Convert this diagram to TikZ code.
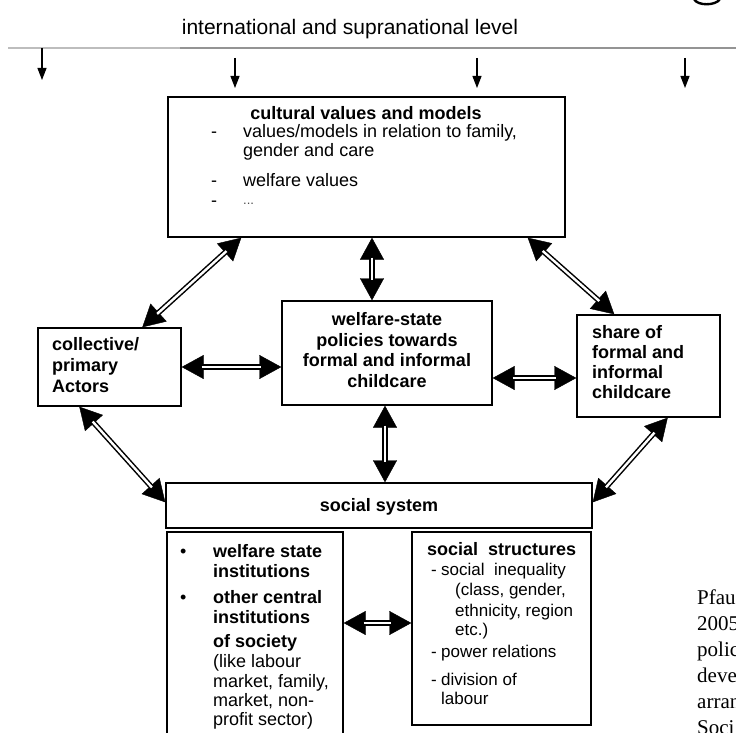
\documentclass[tikz,border=0pt]{standalone}
\usepackage{fontspec}
\setmainfont{Liberation Sans}
\newfontfamily\citeserif{Liberation Serif}
\usetikzlibrary{arrows.meta}
\newcommand\setfs[2]{\fontsize{#1}{#2}\selectfont}
\definecolor{rulelight}{gray}{0.74}
\definecolor{ruledark}{gray}{0.58}
\tikzset{
  box/.style={draw, line width=1.4pt, rectangle, inner sep=0pt},
  twoway/.style={
    preaction={draw, line width=0.4pt, shorten <=0pt, shorten >=0pt,
      arrows={Triangle[length=22pt,width=24pt]-Triangle[length=22pt,width=24pt]}},
    double, double distance=2.4pt, line width=1.5pt,
    shorten <=20pt, shorten >=20pt},
  down/.style={line width=1.1pt, -{Triangle[length=12pt,width=9pt]}},
  t/.style={inner sep=0pt, anchor=base west, font=\setfs{18}{20}},
  tb/.style={inner sep=0pt, anchor=base west, font=\setfs{18}{20}\bfseries},
  ts/.style={inner sep=0pt, anchor=base west, font=\setfs{17}{20}},
  cite/.style={inner sep=0pt, anchor=base west, font=\citeserif\setfs{21}{26}}
}
\begin{document}
\begin{tikzpicture}[x=1pt,y=-1pt]
\useasboundingbox (0,0) rectangle (736,733);
\clip (0,0) rectangle (736,733);

% external level
\node[inner sep=0pt, anchor=base, font=\setfs{21}{24}] (top) at (350,35) {international and supranational level};
\coordinate (rl) at (8,48);
\coordinate (rm) at (180,48);
\coordinate (rr) at (736,48);
\draw[rulelight, line width=2.2pt] (rl) -- (rm);
\draw[ruledark, line width=2.2pt] (rm) -- (rr);
\coordinate (d1a) at (42,48);  \coordinate (d1b) at (42,80);
\coordinate (d2a) at (235,58); \coordinate (d2b) at (235,88);
\coordinate (d3a) at (477,58); \coordinate (d3b) at (477,88);
\coordinate (d4a) at (685,58); \coordinate (d4b) at (685,88);
\draw[down] (d1a) -- (d1b);
\draw[down] (d2a) -- (d2b);
\draw[down] (d3a) -- (d3b);
\draw[down] (d4a) -- (d4b);

% glyph remnant at the top edge
\draw[line width=2.4pt] (694,-1) .. controls (697,6) and (716,6) .. (720,-1);

% boxes
\node[box, minimum width=397pt, minimum height=140pt] (cult)  at (366.5,167) {};
\node[box, minimum width=210pt, minimum height=104pt] (pol)   at (387,353) {};
\node[box, minimum width=143pt, minimum height=102pt] (share) at (648.5,366) {};
\node[box, minimum width=143pt, minimum height=78pt]  (coll)  at (109.5,367) {};
\node[box, minimum width=426pt, minimum height=45pt]  (soc)   at (379,505.5) {};
\node[box, minimum width=176pt, minimum height=230pt] (inst)  at (255,647) {};
\node[box, minimum width=179pt, minimum height=193pt] (struc) at (501.5,628.5) {};

% cultural values and models
\node[tb, anchor=base] (c0) at (366,120) {cultural values and models};
\node[t] (c1d) at (211,138) {-};
\node[t] (c1)  at (243,138) {values/models in relation to family,};
\node[t] (c2)  at (243,157) {gender and care};
\node[t] (c3d) at (211,186) {-};
\node[t] (c3)  at (243,186) {welfare values};
\node[t] (c4d) at (211,206) {-};
\node[t, font=\setfs{13}{13}, text=black!70] (c4) at (243,204) {...};

% collective actors
\node[tb] (k1) at (52,350) {collective/};
\node[tb] (k2) at (52,371) {primary};
\node[tb] (k3) at (52,392) {Actors};

% welfare-state policies
\node[tb, anchor=base] (p1) at (387,325) {welfare-state};
\node[tb, anchor=base] (p2) at (387,346) {policies towards};
\node[tb, anchor=base] (p3) at (387,366) {formal and informal};
\node[tb, anchor=base] (p4) at (387,387) {childcare};

% share of childcare
\node[tb] (s1) at (592,338) {share of};
\node[tb] (s2) at (592,358) {formal and};
\node[tb] (s3) at (592,378) {informal};
\node[tb] (s4) at (592,398) {childcare};

% social system
\node[tb, anchor=base] (ss) at (379,511) {social system};

% institutions
\node[t] (b1) at (180,557) {\textbullet};
\node[tb] (i1) at (213,557) {welfare state};
\node[tb] (i2) at (213,577) {institutions};
\node[t] (b2) at (180,603) {\textbullet};
\node[tb] (i3) at (213,603) {other central};
\node[tb] (i4) at (213,623) {institutions};
\node[tb] (i5) at (213,647) {of society};
\node[t] (i6) at (213,667) {(like labour};
\node[t] (i7) at (213,687) {market, family,};
\node[t] (i8) at (213,706) {market, non-};
\node[t] (i9) at (213,725) {profit sector)};

% social structures
\node[tb] (r0) at (427,555) {social\ \ structures};
\node[ts] (r1d) at (431,575) {-};
\node[ts] (r1) at (441,575) {social\ \ inequality};
\node[ts] (r2) at (455,595) {(class, gender,};
\node[ts] (r3) at (455,616) {ethnicity, region};
\node[ts] (r4) at (455,635) {etc.)};
\node[ts] (r5d) at (431,657) {-};
\node[ts] (r5) at (441,657) {power relations};
\node[ts] (r6d) at (431,685) {-};
\node[ts] (r6) at (441,685) {division of};
\node[ts] (r7) at (441,704) {labour};

% source note, running off the right edge
\node[cite] (n1) at (697,604) {Pfau};
\node[cite] (n2) at (697,630) {2005};
\node[cite] (n3) at (697,656) {polic};
\node[cite] (n4) at (697,682) {deve};
\node[cite] (n5) at (697,708) {arran};
\node[cite] (n6) at (697,734) {Soci};

% connections
\draw[twoway] ([xshift=74pt]cult.south west) -- ([xshift=105pt]coll.north west);
\draw[twoway] ([xshift=42pt]coll.south west) -- ([yshift=-20pt]soc.north west);
\draw[twoway] ([xshift=-38pt]cult.south east) -- ([xshift=38pt]share.north west);
\draw[twoway] ([xshift=-53pt]share.south east) -- ([yshift=-20pt]soc.north east);
\draw[twoway] ([xshift=5.5pt]cult.south) -- ([xshift=-15pt]pol.north);
\draw[twoway] ([xshift=-2pt]pol.south) -- ([xshift=6pt]soc.north);
\draw[twoway] (coll.east) -- ([yshift=-14pt]pol.west);
\draw[twoway] ([yshift=-25pt]pol.east) -- ([yshift=-12pt]share.west);
\draw[twoway] ([yshift=24pt]inst.east) -- ([yshift=5.5pt]struc.west);
\end{tikzpicture}
\end{document}
